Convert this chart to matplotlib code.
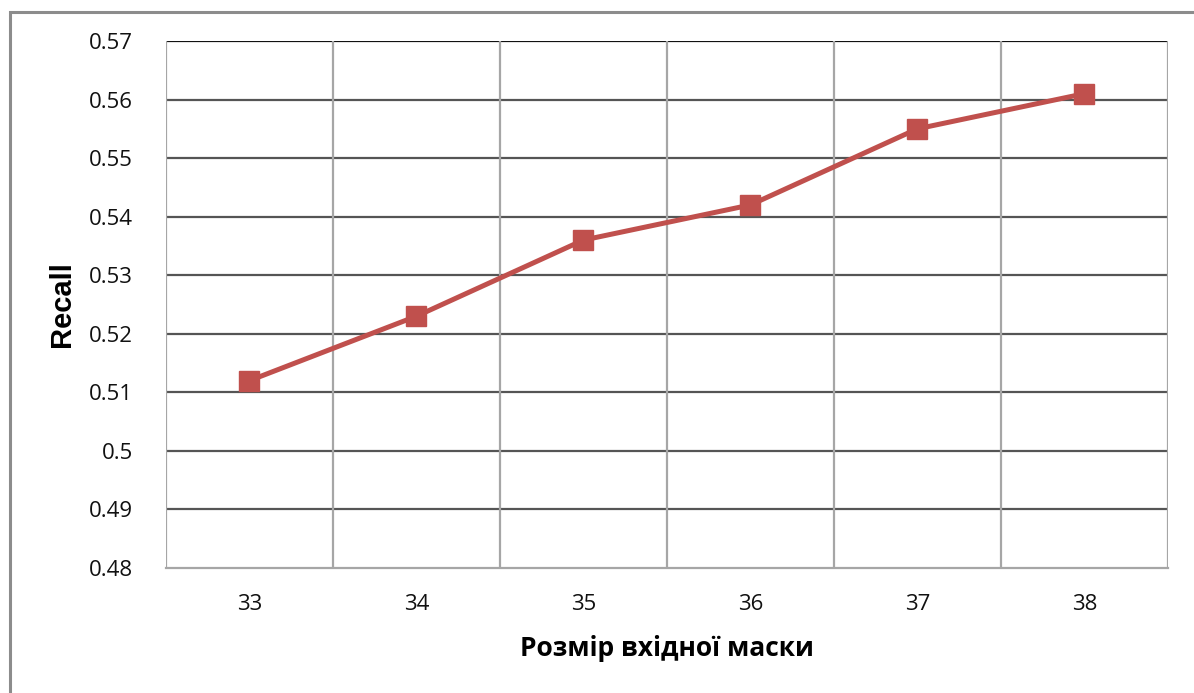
import matplotlib.pyplot as plt
import matplotlib.patches as mpatches
import numpy as np


# Recall vs input mask size
mask_sizes = ['33', '34', '35', '36', '37', '38']
recall = [0.512, 0.523, 0.536, 0.542, 0.555, 0.561]
y_ticks = [0.48, 0.49, 0.5, 0.51, 0.52, 0.53, 0.54, 0.55, 0.56, 0.57]
y_tick_labels = ['0.48', '0.49', '0.5', '0.51', '0.52', '0.53', '0.54', '0.55', '0.56', '0.57']

LINE_COLOR = '#C0504D'
TICK_FONT = ['Open Sans', 'DejaVu Sans']


def main():
    fig = plt.figure(figsize=(11.94, 6.93), dpi=100)
    ax = fig.add_axes([0.139, 0.1804, 0.839, 0.7604])

    x = np.arange(len(mask_sizes))
    ax.plot(x, recall, color=LINE_COLOR, linewidth=3.6, marker='s',
            markersize=14, markerfacecolor=LINE_COLOR, markeredgecolor=LINE_COLOR,
            zorder=5, solid_capstyle='round')

    ax.set_xlim(-0.5, len(mask_sizes) - 0.5)
    ax.set_ylim(0.48, 0.57)

    # horizontal grid: darker lines at each major tick
    ax.set_yticks(y_ticks)
    ax.set_yticklabels(y_tick_labels, family=TICK_FONT, fontsize=16)
    for v in y_ticks[1:]:
        ax.axhline(v, color='#111111' if v == y_ticks[-1] else '#555555',
                   linewidth=1.6, zorder=1)

    # vertical grid sits between categories
    ax.set_xticks(x)
    ax.set_xticklabels(mask_sizes, family=TICK_FONT, fontsize=16)
    for b in np.arange(-0.5, len(mask_sizes), 1.0):
        ax.axvline(b, color='#A6A6A6', linewidth=1.6, zorder=1)

    ax.tick_params(axis='y', length=0, pad=24, colors='#111111')
    ax.tick_params(axis='x', length=0, pad=19, colors='#111111')
    for side in ['top', 'right', 'left']:
        ax.spines[side].set_visible(False)
    ax.spines['bottom'].set_color('#A6A6A6')
    ax.spines['bottom'].set_linewidth(1.6)

    ax.set_ylabel('Recall', family=['Liberation Sans', 'DejaVu Sans'],
                  fontsize=21, fontweight='bold', labelpad=9)
    ax.set_xlabel('Розмір вхідної маски', family=TICK_FONT,
                  fontsize=19, fontweight='bold', labelpad=14)

    # outer chart frame (only top and left edges fall inside the image)
    frame = mpatches.Rectangle((10 / 1194, -0.5), 2.0, 0.5 + (1 - 12 / 693),
                               transform=fig.transFigure, fill=False,
                               edgecolor='#8C8C8C', linewidth=2.2)
    fig.patches.append(frame)

    fig.savefig('out.png', dpi=100)


if __name__ == '__main__':
    main()
